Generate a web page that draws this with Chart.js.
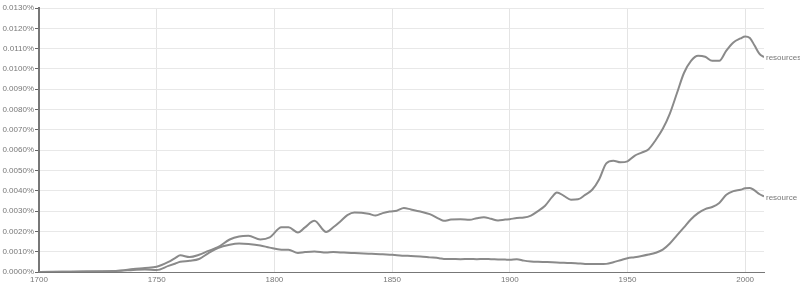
<!DOCTYPE html>
<html><head><meta charset="utf-8">
<script src="https://cdn.jsdelivr.net/npm/chart.js@4/dist/chart.umd.min.js"></script>
<style>html,body{margin:0;padding:0;background:#fff}#wrap{width:800px;height:285px}</style>
</head><body><div id="wrap"><canvas id="c" width="800" height="285"></canvas></div>
<script>
const years = [1700,1710,1720,1730,1735,1740,1745,1750,1755,1758,1760,1764,1768,1772,1776,1781,1785,1789,1794,1798,1803,1806,1810,1813,1817,1822,1825,1828,1831,1834,1840,1843,1846,1849,1852,1855,1858,1862,1866,1870,1872,1875,1879,1883,1886,1889,1892,1895,1898,1900,1903,1906,1909,1912,1915,1918,1920,1923,1926,1929,1932,1935,1938,1941,1944,1947,1950,1953,1956,1959,1962,1965,1968,1971,1974,1977,1980,1983,1986,1989,1992,1995,1998,2000,2002,2004,2006,2008];
const resources = [0,0.00001,0.00002,0.00004,0.00008,0.00015,0.0002,0.00026,0.0005,0.0007,0.00082,0.00074,0.00085,0.00104,0.00122,0.0016,0.00175,0.00178,0.0016,0.0017,0.0022,0.0022,0.00195,0.0022,0.00252,0.00197,0.0022,0.00249,0.0028,0.00293,0.00287,0.00278,0.0029,0.00298,0.00302,0.00315,0.00308,0.00298,0.00285,0.00262,0.00252,0.00258,0.0026,0.00257,0.00265,0.0027,0.00262,0.00254,0.00258,0.0026,0.00266,0.00268,0.00278,0.003,0.00326,0.0037,0.00392,0.00375,0.00356,0.00358,0.0038,0.00405,0.00457,0.00535,0.00548,0.0054,0.00545,0.00572,0.00588,0.00605,0.0065,0.00705,0.0078,0.0088,0.0098,0.0104,0.01065,0.0106,0.0104,0.0104,0.0109,0.0113,0.0115,0.0116,0.01152,0.01115,0.01075,0.01058];
const resource = [0,0.00001,0.00002,0.00004,0.00006,0.0001,0.00012,0.0001,0.0003,0.00042,0.0005,0.00055,0.00064,0.00093,0.00118,0.00134,0.0014,0.00138,0.00131,0.0012,0.0011,0.0011,0.00094,0.00098,0.00101,0.00096,0.00098,0.00096,0.00095,0.00093,0.0009,0.00089,0.00087,0.00085,0.00083,0.0008,0.00079,0.00076,0.00072,0.00068,0.00064,0.00064,0.00063,0.00064,0.00063,0.00064,0.00063,0.00062,0.00061,0.0006,0.00063,0.00056,0.00052,0.0005,0.00049,0.00048,0.00047,0.00045,0.00044,0.00042,0.0004,0.00039,0.00039,0.0004,0.00048,0.00058,0.00068,0.00073,0.00079,0.00086,0.00095,0.0011,0.0014,0.0018,0.0022,0.0026,0.0029,0.0031,0.0032,0.0034,0.0038,0.00398,0.00405,0.00412,0.00414,0.00402,0.00384,0.00372];
const seriesNames = ['resources','resource'];
const xTicks = [1700,1750,1800,1850,1900,1950,2000];

const toPts = arr => arr.map((v,i)=>({x:years[i], y:v}));

const endLabels = {
  id:'endLabels',
  afterDatasetsDraw(chart){
    const ctx = chart.ctx;
    ctx.save();
    ctx.font = '8px "Liberation Sans", Arial, sans-serif';
    ctx.fillStyle = '#777';
    ctx.textBaseline = 'middle';
    chart.data.datasets.forEach((ds,i)=>{
      const meta = chart.getDatasetMeta(i);
      const p = meta.data[meta.data.length-1];
      ctx.fillText(ds.label, p.x + 2, p.y + 1);
    });
    ctx.restore();
  }
};

new Chart(document.getElementById('c'), {
  type:'line',
  data:{datasets:[
    {label:seriesNames[0], data:toPts(resources), borderColor:'#8a8a8a', borderWidth:2, pointRadius:0, tension:0.3, cubicInterpolationMode:'monotone'},
    {label:seriesNames[1], data:toPts(resource), borderColor:'#8a8a8a', borderWidth:2, pointRadius:0, tension:0.3, cubicInterpolationMode:'monotone'}
  ]},
  options:{
    responsive:false, animation:false,
    layout:{padding:{top:8,right:36,left:0,bottom:0}},
    plugins:{legend:{display:false}, tooltip:{enabled:false}},
    scales:{
      x:{type:'linear', min:1700, max:2008,
        afterBuildTicks(s){ s.ticks = xTicks.map(v=>({value:v})); },
        afterFit(s){ s.height = 13; },
        grid:{color:'#e4e4e4', lineWidth:1, drawTicks:false, tickLength:0},
        border:{color:'#777', width:1},
        ticks:{color:'#777', font:{size:8, family:'"Liberation Sans", Arial, sans-serif'}, padding:3, maxRotation:0, autoSkip:false,
          callback:v=>String(v)}
      },
      y:{min:0, max:0.013,
        afterFit(s){ s.width = 39; },
        grid:{color:'#e8e8e8', lineWidth:1, tickLength:4, tickColor:'#666', drawTicks:true},
        border:{color:'#777', width:2},
        ticks:{stepSize:0.001, color:'#777', padding:1, font:{size:8, family:'"Liberation Sans", Arial, sans-serif'},
          callback:v=>(Math.round(v*10000)/10000).toFixed(4)+'%'}
      }
    }
  },
  plugins:[endLabels]
});
</script></body></html>
